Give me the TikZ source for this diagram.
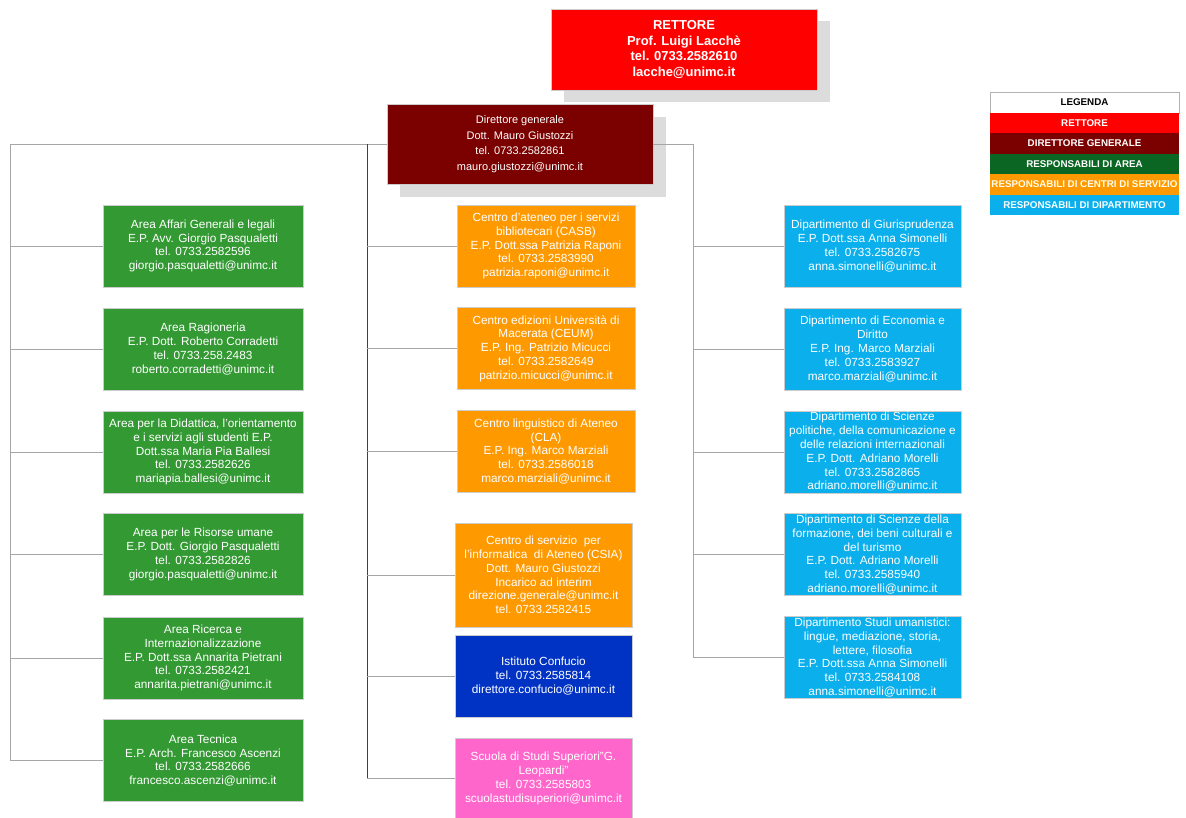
\documentclass[tikz,border=0pt]{standalone}
\usepackage{fontspec}
\setmainfont{Liberation Sans}
\definecolor{cred}{HTML}{FF0000}
\definecolor{cdg}{HTML}{7B0000}
\definecolor{cgreen}{HTML}{339933}
\definecolor{clegg}{HTML}{0B6623}
\definecolor{corange}{HTML}{FF9900}
\definecolor{cblue}{HTML}{0AAFEB}
\definecolor{cconf}{HTML}{0033C4}
\definecolor{cpink}{HTML}{FF66CC}
\definecolor{cshadow}{HTML}{DCDCDC}
\definecolor{cline}{HTML}{A6A6A6}
\begin{document}
\begin{tikzpicture}[x=1pt,y=-1pt,
  box/.style={draw=black!20, line width=0.4pt, inner sep=0pt, align=center, text=white,
    font=\fontsize{11.8}{13.8}\selectfont},
  greenbox/.style={box, fill=cgreen, minimum width=200pt, minimum height=82pt},
  orangebox/.style={box, fill=corange, minimum width=178pt, minimum height=82pt},
  bluebox/.style={box, fill=cblue, minimum width=177pt, minimum height=82pt},
  legrow/.style={inner sep=0pt, minimum width=189pt, minimum height=20.5pt, text=white,
    font=\fontsize{9.8}{11}\selectfont\bfseries},
  conn/.style={draw=cline, line width=0.9pt},
  darkconn/.style={draw=black!75, line width=1pt}]
\useasboundingbox (0,0) rectangle (1186,818);

% shadows
\fill[cshadow] (564,21) rectangle (830,102);
\fill[cshadow] (400,117) rectangle (666,197);

% top nodes
\node[box, fill=cred, minimum width=266pt, minimum height=81pt,
  font=\fontsize{13}{15.5}\selectfont\bfseries] (rt) at (684,49.5)
  {RETTORE\\Prof. Luigi Lacchè\\tel. 0733.2582610\\lacche@unimc.it};
\node[box, fill=cdg, minimum width=266pt, minimum height=80pt,
  font=\fontsize{11}{15.6}\selectfont] (dg) at (520,144)
  {Direttore generale\\Dott. Mauro Giustozzi\\tel. 0733.2582861\\mauro.giustozzi@unimc.it};

% left column
\node[greenbox] (g1) at (203,246) {Area Affari Generali e legali\\E.P. Avv. Giorgio Pasqualetti\\tel. 0733.2582596\\giorgio.pasqualetti@unimc.it};
\node[greenbox] (g2) at (203,349) {Area Ragioneria\\E.P. Dott. Roberto Corradetti\\tel. 0733.258.2483\\roberto.corradetti@unimc.it};
\node[greenbox] (g3) at (203,452) {Area per la Didattica, l'orientamento\\e i servizi agli studenti E.P.\\Dott.ssa Maria Pia Ballesi\\tel. 0733.2582626\\mariapia.ballesi@unimc.it};
\node[greenbox] (g4) at (203,554.5) {Area per le Risorse umane\\E.P. Dott. Giorgio Pasqualetti\\tel. 0733.2582826\\giorgio.pasqualetti@unimc.it};
\node[greenbox] (g5) at (203,658) {Area Ricerca e\\Internazionalizzazione\\E.P. Dott.ssa Annarita Pietrani\\tel. 0733.2582421\\annarita.pietrani@unimc.it};
\node[greenbox] (g6) at (203,760.5) {Area Tecnica\\E.P. Arch. Francesco Ascenzi\\tel. 0733.2582666\\francesco.ascenzi@unimc.it};

% middle column
\node[orangebox] (o1) at (546,246) {Centro d'ateneo per i servizi\\bibliotecari (CASB)\\E.P. Dott.ssa Patrizia Raponi\\tel. 0733.2583990\\patrizia.raponi@unimc.it};
\node[orangebox] (o2) at (546,348.5) {Centro edizioni Università di\\Macerata (CEUM)\\E.P. Ing. Patrizio Micucci\\tel. 0733.2582649\\patrizio.micucci@unimc.it};
\node[orangebox] (o3) at (546,451.5) {Centro linguistico di Ateneo\\(CLA)\\E.P. Ing. Marco Marziali\\tel. 0733.2586018\\marco.marziali@unimc.it};
\node[orangebox, minimum width=177pt, minimum height=104pt] (o4) at (543.5,575) {Centro di servizio~ per\\l'informatica~ di Ateneo (CSIA)\\Dott. Mauro Giustozzi\\Incarico ad interim\\direzione.generale@unimc.it\\tel. 0733.2582415};
\node[box, fill=cconf, minimum width=177pt, minimum height=82pt] (cf) at (543.5,676) {Istituto Confucio\\tel. 0733.2585814\\direttore.confucio@unimc.it};
\node[box, fill=cpink, minimum width=177pt, minimum height=80pt] (sc) at (543.5,778.5) {Scuola di Studi Superiori"G.\\Leopardi"\\tel. 0733.2585803\\scuolastudisuperiori@unimc.it};

% right column
\node[bluebox] (b1) at (872.5,246) {Dipartimento di Giurisprudenza\\E.P. Dott.ssa Anna Simonelli\\tel. 0733.2582675\\anna.simonelli@unimc.it};
\node[bluebox] (b2) at (872.5,349) {Dipartimento di Economia e\\Diritto\\E.P. Ing. Marco Marziali\\tel. 0733.2583927\\marco.marziali@unimc.it};
\node[bluebox] (b3) at (872.5,452) {Dipartimento di Scienze\\politiche, della comunicazione e\\delle relazioni internazionali\\E.P. Dott. Adriano Morelli\\tel. 0733.2582865\\adriano.morelli@unimc.it};
\node[bluebox] (b4) at (872.5,554.5) {Dipartimento di Scienze della\\formazione, dei beni culturali e\\del turismo\\E.P. Dott. Adriano Morelli\\tel. 0733.2585940\\adriano.morelli@unimc.it};
\node[bluebox] (b5) at (872.5,657.5) {Dipartimento Studi umanistici:\\lingue, mediazione, storia,\\lettere, filosofia\\E.P. Dott.ssa Anna Simonelli\\tel. 0733.2584108\\anna.simonelli@unimc.it};

% legend
\node[legrow, draw=black!30, line width=0.4pt, fill=white, text=black] (l0) at (1084.5,102.5) {LEGENDA};
\node[legrow, fill=cred] (l1) at (1084.5,123) {RETTORE};
\node[legrow, fill=cdg] (l2) at (1084.5,143.5) {DIRETTORE GENERALE};
\node[legrow, fill=clegg] (l3) at (1084.5,164) {RESPONSABILI DI AREA};
\node[legrow, fill=corange, text=white!92!yellow] (l4) at (1084.5,184.5) {RESPONSABILI DI CENTRI DI SERVIZIO};
\node[legrow, fill=cblue] (l5) at (1084.5,205) {RESPONSABILI DI DIPARTIMENTO};

% connectors
\coordinate (lt) at (10,144);
\coordinate (mt) at (367,144);
\coordinate (rtop) at (693,144);
\draw[conn] (dg.west) -- (lt) -- (lt |- g6.west) -- (g6.west);
\foreach \n in {g1,g2,g3,g4,g5} \draw[conn] (\n.west) -- (\n.west -| lt);
\draw[darkconn] (mt) -- (mt |- sc.west);
\foreach \n in {o1,o2,o3,o4,cf,sc} \draw[conn] (\n.west) -- (\n.west -| mt);
\draw[conn] (dg.east) -- (rtop) -- (rtop |- b5.west) -- (b5.west);
\foreach \n in {b1,b2,b3,b4} \draw[conn] (\n.west) -- (\n.west -| rtop);
\end{tikzpicture}
\end{document}
